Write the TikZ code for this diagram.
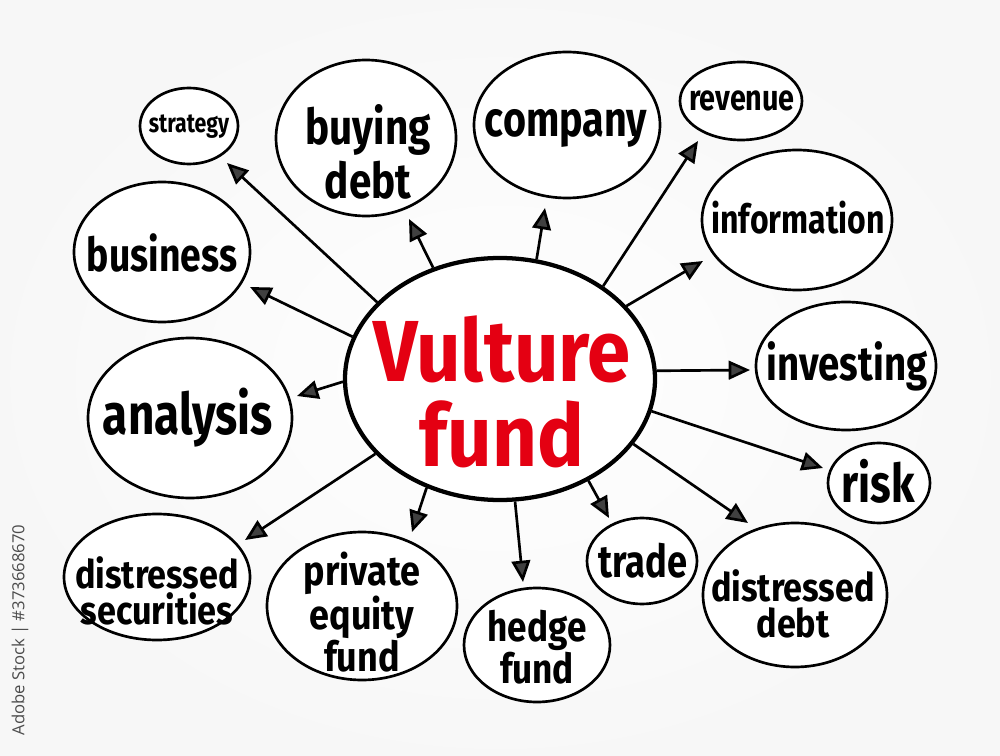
\documentclass[tikz,border=0pt]{standalone}
\usepackage{fontspec}
\usepackage{graphicx}
\setmainfont{Fira Sans}
\newfontfamily\idfont{Open Sans}
\usetikzlibrary{shapes.geometric,arrows.meta}
\definecolor{vred}{RGB}{228,0,18}
\newcommand\hx[2][0.8]{\scalebox{#1}[1]{#2}}
\begin{document}
\begin{tikzpicture}[x=0.75pt,y=-0.75pt]
\tikzset{
 ell/.style={ellipse, draw, line width=2pt, inner sep=0pt, fill=white},
 lbl/.style={align=center, inner sep=0pt},
 arr/.style={line width=2pt, -{Triangle[length=16pt,width=14pt,fill=black!75]}},
}
\useasboundingbox (0,0) rectangle (1000,756);
\shade[inner color=white, outer color=black!3] (0,0) rectangle (1000,756);
% central
\node[ell, line width=3.2pt, minimum width=232.5pt, minimum height=181.5pt] (vf) at (500,379) {};
\node[lbl, text=vred, font=\bfseries\fontsize{65}{64}\selectfont] (vft) at (502,392) {\hx[0.9]{Vulture}\\\hx[0.9]{fund}};
% satellites
\node[ell, minimum width=73.5pt, minimum height=57pt] (str) at (189,126) {};
\node[lbl, font=\bfseries\fontsize{20}{22}\selectfont] (strt) at (189,127) {\hx{strategy}};
\node[ell, minimum width=135pt, minimum height=117pt] (buy) at (366,138) {};
\node[lbl, font=\bfseries\fontsize{37}{40}\selectfont] (buyt) at (368,152) {\hx[0.82]{buying}\\\hx[0.82]{debt}};
\node[ell, minimum width=139.5pt, minimum height=109.5pt] (com) at (567,125) {};
\node[lbl, font=\bfseries\fontsize{37}{40}\selectfont] (comt) at (566,128) {\hx{company}};
\node[ell, minimum width=91.5pt, minimum height=58.5pt] (rev) at (741,101) {};
\node[lbl, font=\bfseries\fontsize{27}{30}\selectfont] (revt) at (742,101) {\hx{revenue}};
\node[ell, minimum width=142.5pt, minimum height=105pt] (inf) at (797,220) {};
\node[lbl, font=\bfseries\fontsize{30}{33}\selectfont] (inft) at (798,218) {\hx{information}};
\node[ell, minimum width=132pt, minimum height=105pt] (bus) at (162,252) {};
\node[lbl, font=\bfseries\fontsize{35}{38}\selectfont] (bust) at (162,253) {\hx{business}};
\node[ell, minimum width=135pt, minimum height=96pt] (inv) at (846,366) {};
\node[lbl, font=\bfseries\fontsize{36}{39}\selectfont] (invt) at (847,366) {\hx{investing}};
\node[ell, minimum width=153pt, minimum height=120pt] (ana) at (190,418) {};
\node[lbl, font=\bfseries\fontsize{43}{46}\selectfont] (anat) at (188,418) {\hx{analysis}};
\node[ell, minimum width=76.5pt, minimum height=60pt] (risk) at (879,483) {};
\node[lbl, font=\bfseries\fontsize{40}{43}\selectfont] (riskt) at (878,481) {\hx{risk}};
\node[ell, minimum width=139.5pt, minimum height=94.5pt] (dsec) at (157,577) {};
\node[lbl, font=\bfseries\fontsize{29.5}{27}\selectfont] (dsect) at (157,591) {\hx[0.87]{distressed}\\\hx[0.87]{securities}};
\node[ell, minimum width=142.5pt, minimum height=111pt] (priv) at (362,606) {};
\node[lbl, font=\bfseries\fontsize{31}{28.5}\selectfont] (privt) at (362,612) {\hx[0.87]{private}\\\hx[0.87]{equity}\\\hx[0.87]{fund}};
\node[ell, minimum width=109.5pt, minimum height=85.5pt] (hedge) at (537,645) {};
\node[lbl, font=\bfseries\fontsize{31}{28.5}\selectfont] (hedget) at (537,647) {\hx[0.85]{hedge}\\\hx[0.85]{fund}};
\node[ell, minimum width=82.5pt, minimum height=64.5pt] (trade) at (642,561) {};
\node[lbl, font=\bfseries\fontsize{34}{37}\selectfont] (tradet) at (643,561) {\hx{trade}};
\node[ell, minimum width=138pt, minimum height=108pt] (dd) at (795,595) {};
\node[lbl, font=\bfseries\fontsize{29.5}{27}\selectfont] (ddt) at (793,604) {\hx[0.87]{distressed}\\\hx[0.87]{debt}};
% arrow tips
\coordinate (tStr) at (227,163);
\coordinate (tBuy) at (409,219);
\coordinate (tCom) at (545,208);
\coordinate (tRev) at (698,141);
\coordinate (tInf) at (703,261);
\coordinate (tBus) at (250,287);
\coordinate (tInv) at (750,370);
\coordinate (tAna) at (297,396);
\coordinate (tRisk) at (823,468);
\coordinate (tDd) at (748,523);
\coordinate (tDs) at (245,540);
\coordinate (tPriv) at (412,532);
\coordinate (tHedge) at (523,582);
\coordinate (tTrade) at (609,518);
\draw[arr] (vf.148) -- (tStr);
\draw[arr] (vf.121) -- (tBuy);
\draw[arr] (vf.73) -- (tCom);
\draw[arr] (vf.42) -- (tRev);
\draw[arr] (vf.30) -- (tInf);
\draw[arr] (vf.164) -- (tBus);
\draw[arr] (vf.3) -- (tInv);
\draw[arr] (vf.181) -- (tAna);
\draw[arr] (vf.348) -- (tRisk);
\draw[arr] (vf.334) -- (tDd);
\draw[arr] (vf.211) -- (tDs);
\draw[arr] (vf.236) -- (tPriv);
\draw[arr] (vf.277) -- (tHedge);
\draw[arr] (vf.311) -- (tTrade);
% stock id
\node[rotate=90, text=black!70, font=\idfont\fontsize{12.5}{15}\selectfont] (sid) at (20,630) {Adobe Stock | \#373668670};
\end{tikzpicture}
\end{document}
